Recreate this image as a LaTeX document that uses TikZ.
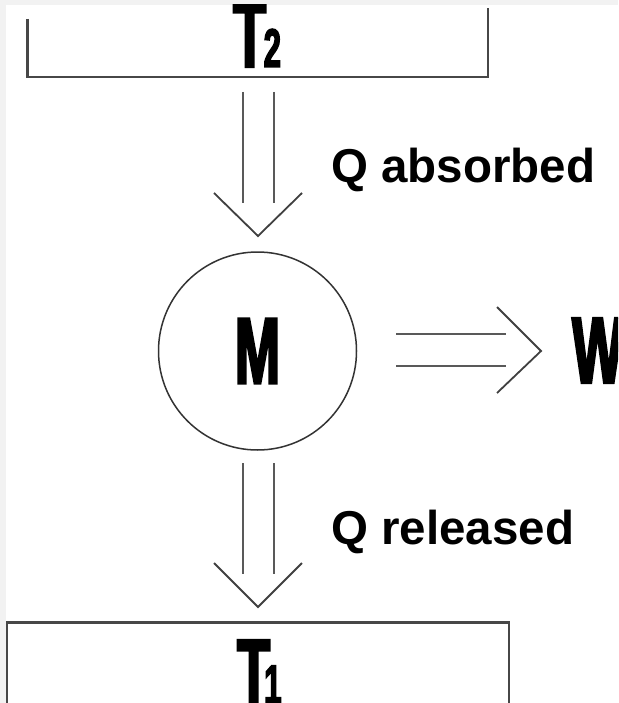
\documentclass[tikz,border=0pt]{standalone}
\usepackage{fontspec}
\setmainfont{Liberation Sans}
\newfontfamily\condfont{Liberation Sans}[FakeStretch=0.57,FakeBold=2.5]
\begin{document}
\begin{tikzpicture}[x=1pt,y=-1pt,
  boxline/.style={draw=black!72,line width=2.4pt},
  arrline/.style={draw=black!65,line width=2pt},
  chev/.style={draw=black!75,line width=1.8pt},
  big/.style={inner sep=0pt,font=\condfont\bfseries\fontsize{94.5}{94.5}\selectfont},
  sub/.style={inner sep=0pt,font=\condfont\bfseries\fontsize{54.5}{54.5}\selectfont},
  lab/.style={inner sep=0pt,anchor=base west,font=\bfseries\fontsize{47.5}{47.5}\selectfont}]
\useasboundingbox (0,0) rectangle (618,703);
\fill[black!5] (0,0) rectangle (618,703);
\fill[white] (6,5) rectangle (618,703);
\begin{scope}
\clip (6,5) rectangle (618,703);
% top reservoir
\draw[boxline] (27.5,19) -- (27.5,77) -- (488,77) -- (488,8);
\node[big,anchor=base west] (T2) at (233,67) {T};
\node[sub,anchor=base west] (T2s) at (263.5,67) {2};
% bottom reservoir
\draw[boxline] (7,720) -- (7,622.5) -- (509,622.5) -- (509,720);
\node[big,anchor=base west] (T1) at (237,705) {T};
\node[sub,anchor=base west] (T1s) at (264,703) {1};
% engine
\node[circle,draw=black!80,line width=1.5pt,minimum size=198pt,inner sep=0pt,
      font=\condfont\bfseries\fontsize{94.5}{94.5}\selectfont] (M) at (257.5,351) {M};
\node[big,anchor=base west] (W) at (572,383) {W};
% labels
\node[lab] (qa) at (331,183) {Q absorbed};
\node[lab] (qr) at (331,544) {Q released};
% arrow 1
\coordinate (a1l) at (242.5,92); \coordinate (a1le) at (242.5,203);
\coordinate (a1r) at (274,92);   \coordinate (a1re) at (274,203);
\draw[arrline] (a1l) -- (a1le);
\draw[arrline] (a1r) -- (a1re);
\draw[chev,line join=miter] (214,193) -- (258,236) -- (302,193);
% arrow 2
\coordinate (a2l) at (242.5,463); \coordinate (a2le) at (242.5,574);
\coordinate (a2r) at (274,463);   \coordinate (a2re) at (274,574);
\draw[arrline] (a2l) -- (a2le);
\draw[arrline] (a2r) -- (a2re);
\draw[chev,line join=miter] (214,563) -- (258,607) -- (302,563);
% work arrow
\coordinate (w1) at (396,334); \coordinate (w1e) at (506,334);
\coordinate (w2) at (396,366); \coordinate (w2e) at (506,366);
\draw[arrline] (w1) -- (w1e);
\draw[arrline] (w2) -- (w2e);
\draw[chev,line join=miter] (497,307) -- (541,351) -- (497,393);
\end{scope}
\end{tikzpicture}
\end{document}
